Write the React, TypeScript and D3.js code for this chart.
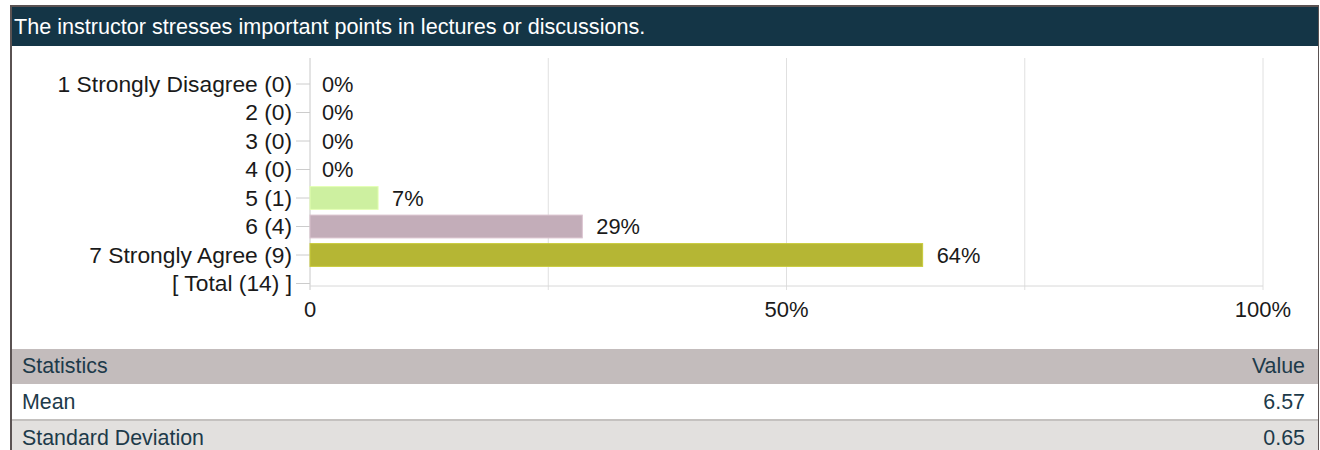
import React from "react";
import * as d3 from "d3";

const title = "The instructor stresses important points in lectures or discussions.";
const categories = ["1 Strongly Disagree", "2", "3", "4", "5", "6", "7 Strongly Agree"];
const counts = [0, 0, 0, 0, 1, 4, 9];
const totalCount = 14;
const barColors = ["#cdf0a0", "#cdf0a0", "#cdf0a0", "#cdf0a0", "#cdf0a0", "#c3adb9", "#b5b634"];
const xTicks = [0, 50, 100];
const xGrid = [0, 25, 50, 75, 100];
const statNames = ["Mean", "Standard Deviation"];
const statValues = ["6.57", "0.65"];

const W = 1320;
const H = 450;
const FONT = "'Liberation Sans', Arial, Helvetica, sans-serif";

export default function App() {
  const rowLabels = [
    ...categories.map((c, i) => `${c} (${counts[i]})`),
    `[ Total (${totalCount}) ]`,
  ];
  const x = d3.scaleLinear().domain([0, 100]).range([310, 1263]);
  const y = d3
    .scaleBand<string>()
    .domain(rowLabels)
    .range([69.75, 297.75])
    .paddingInner(0.2)
    .paddingOuter(0.1);
  const center = (l: string) => (y(l) as number) + y.bandwidth() / 2;
  const pct = counts.map((c) => (c / totalCount) * 100);
  const gridTop = 58;
  const axisY = 286;

  return (
    <svg
      width={W}
      height={H}
      style={{ position: "absolute", left: 0, top: 0, background: "#fff" }}
      fontFamily={FONT}
    >
      {/* panel */}
      <rect x={0} y={0} width={W} height={H} fill="#fff" />
      <rect x={12} y={7} width={1306} height={39} fill="#143546" />
      <line x1={10} y1={6} x2={1319} y2={6} stroke="#5a5252" strokeWidth={2} />
      <line x1={11} y1={6} x2={11} y2={H} stroke="#5a5252" strokeWidth={2} />
      <line x1={1318.5} y1={6} x2={1318.5} y2={H} stroke="#5a5252" strokeWidth={1} />
      <text x={14} y={34} fill="#ffffff" fontSize={21.6}>
        {title}
      </text>

      {/* grid */}
      {xGrid.map((g) => (
        <line
          key={g}
          x1={x(g)}
          x2={x(g)}
          y1={gridTop}
          y2={axisY + 4}
          stroke={g === 0 ? "#c8c8c8" : "#e0e0e0"}
          strokeWidth={1}
        />
      ))}
      <line x1={x(0)} x2={x(100)} y1={axisY} y2={axisY} stroke="#d8d8d8" strokeWidth={1} />

      {/* y ticks and labels */}
      {rowLabels.map((l) => (
        <g key={l}>
          <line x1={296} x2={x(0)} y1={center(l)} y2={center(l)} stroke="#cccccc" strokeWidth={1} />
          <text x={292} y={center(l)} dy="0.35em" textAnchor="end" fontSize={22.8} fill="#1a1a1a">
            {l}
          </text>
        </g>
      ))}

      {/* bars */}
      {categories.map((c, i) => {
        const l = rowLabels[i];
        const w = x(pct[i]) - x(0);
        return (
          <g key={c}>
            {w > 0 && (
              <rect
                x={x(0)}
                y={y(l) as number}
                width={w}
                height={y.bandwidth()}
                fill={barColors[i]}
                stroke={d3.color(barColors[i])!.brighter(0.3).toString()}
                strokeWidth={1}
              />
            )}
            <text
              x={x(pct[i]) + (w > 0 ? 14 : 12)}
              y={center(l)}
              dy="0.35em"
              fontSize={21.8}
              fill="#1a1a1a"
            >
              {`${Math.round(pct[i])}%`}
            </text>
          </g>
        );
      })}

      {/* x tick labels */}
      {xTicks.map((t) => (
        <text key={t} x={x(t)} y={317} textAnchor="middle" fontSize={22} fill="#1a1a1a">
          {t === 0 ? "0" : `${t}%`}
        </text>
      ))}

      {/* statistics table */}
      <rect x={12} y={349} width={1306} height={35} fill="#c3bcbc" />
      <text x={22} y={372.5} fontSize={21.4} fill="#1d3a4a">
        Statistics
      </text>
      <text x={1305} y={372.5} fontSize={21.4} fill="#1d3a4a" textAnchor="end">
        Value
      </text>
      <rect x={12} y={384} width={1306} height={35} fill="#ffffff" />
      <rect x={12} y={419} width={1306} height={2} fill="#c4c1bf" />
      <rect x={12} y={421} width={1306} height={29} fill="#e2e0de" />
      {statNames.map((n, i) => (
        <g key={n}>
          <text x={22} y={408.5 + i * 36} fontSize={21.4} fill="#1d3a4a">
            {n}
          </text>
          <text x={1305} y={408.5 + i * 36} fontSize={21.4} fill="#1d3a4a" textAnchor="end">
            {statValues[i]}
          </text>
        </g>
      ))}
    </svg>
  );
}
